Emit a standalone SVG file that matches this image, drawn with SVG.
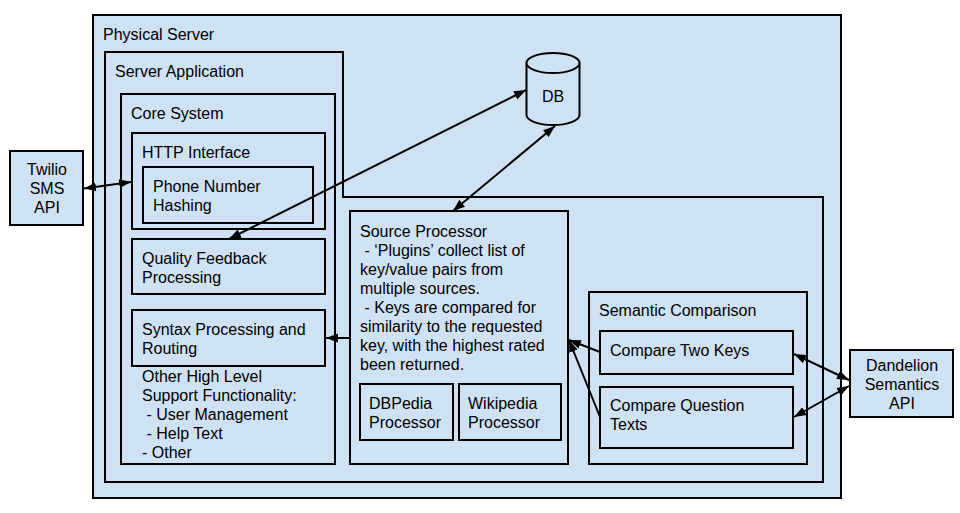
<svg xmlns="http://www.w3.org/2000/svg" width="960" height="513" viewBox="0 0 960 513">
<style>
.b{fill:#cfe2f3;stroke:#000;stroke-width:2}
text{font-family:"Liberation Sans",Arial,sans-serif;font-size:16px;fill:#000}
.c{text-anchor:middle}
.l{fill:none;stroke:#000;stroke-width:2}
</style>
<defs>
<marker id="ah" markerUnits="userSpaceOnUse" markerWidth="14" markerHeight="10" refX="12" refY="5" orient="auto-start-reverse" viewBox="0 0 14 10">
<path d="M0,0.5 L12,5 L0,9.5 z" fill="#000"/>
</marker>
</defs>
<rect width="960" height="513" fill="#fff"/>
<g id="physical-server">
<rect class="b" x="93" y="15" width="748" height="483"/>
<text x="103" y="40">Physical Server</text>
</g>
<g id="server-application">
<path class="b" d="M105,52 H343 V197 H823 V482 H105 Z"/>
<text x="115" y="77">Server Application</text>
</g>
<g id="core-system">
<rect class="b" x="121" y="94" width="214" height="370"/>
<text x="131" y="119">Core System</text>
<text x="142" y="382">Other High Level</text>
<text x="142" y="401">Support Functionality:</text>
<text x="142" y="420" xml:space="preserve"> - User Management</text>
<text x="142" y="439" xml:space="preserve"> - Help Text</text>
<text x="142" y="458">- Other</text>
</g>
<g id="http-interface">
<rect class="b" x="132" y="133" width="193" height="96"/>
<text x="142" y="158">HTTP Interface</text>
</g>
<g id="phone-number-hashing">
<rect class="b" x="143" y="167" width="170" height="56"/>
<text x="153" y="192">Phone Number</text>
<text x="153" y="211">Hashing</text>
</g>
<g id="quality-feedback">
<rect class="b" x="132" y="239" width="193" height="55"/>
<text x="142" y="264">Quality Feedback</text>
<text x="142" y="283">Processing</text>
</g>
<g id="syntax-processing">
<rect class="b" x="132" y="310" width="193" height="56"/>
<text x="142" y="335">Syntax Processing and</text>
<text x="142" y="354">Routing</text>
</g>
<g id="twilio">
<rect class="b" x="10" y="151" width="73" height="74"/>
<text class="c" x="47" y="175">Twilio</text>
<text class="c" x="47" y="194">SMS</text>
<text class="c" x="47" y="213">API</text>
</g>
<g id="db">
<path class="b" d="M526.5,63 V115 A26.5,10 0 0 0 579.5,115 V63"/>
<ellipse class="b" cx="553" cy="63" rx="26.5" ry="10"/>
<text class="c" x="553" y="102">DB</text>
</g>
<g id="source-processor">
<rect class="b" x="350" y="211" width="218" height="253"/>
<text x="360" y="237">Source Processor</text>
<text x="360" y="256" xml:space="preserve"> - ‘Plugins’ collect list of</text>
<text x="360" y="275">key/value pairs from</text>
<text x="360" y="294">multiple sources.</text>
<text x="360" y="313" xml:space="preserve"> - Keys are compared for</text>
<text x="360" y="332">similarity to the requested</text>
<text x="360" y="351">key, with the highest rated</text>
<text x="360" y="370">been returned.</text>
</g>
<g id="dbpedia">
<rect class="b" x="360" y="384" width="93" height="56"/>
<text x="369" y="409">DBPedia</text>
<text x="369" y="428">Processor</text>
</g>
<g id="wikipedia">
<rect class="b" x="459" y="384" width="102" height="56"/>
<text x="468" y="409">Wikipedia</text>
<text x="468" y="428">Processor</text>
</g>
<g id="semantic-comparison">
<rect class="b" x="589" y="292" width="218" height="172"/>
<text x="599" y="316">Semantic Comparison</text>
</g>
<g id="compare-two-keys">
<rect class="b" x="600" y="331" width="193" height="43"/>
<text x="610" y="356">Compare Two Keys</text>
</g>
<g id="compare-question-texts">
<rect class="b" x="600" y="387" width="193" height="61"/>
<text x="610" y="411">Compare Question</text>
<text x="610" y="430">Texts</text>
</g>
<g id="dandelion">
<rect class="b" x="850" y="350" width="103" height="67"/>
<text class="c" x="902" y="371">Dandelion</text>
<text class="c" x="902" y="390">Semantics</text>
<text class="c" x="902" y="409">API</text>
</g>
<g id="connectors">
<line class="l" x1="84" y1="188.5" x2="131" y2="182" marker-start="url(#ah)" marker-end="url(#ah)"/>
<line class="l" x1="229" y1="239" x2="526" y2="90" marker-start="url(#ah)" marker-end="url(#ah)"/>
<line class="l" x1="453" y1="211" x2="555" y2="126" marker-start="url(#ah)" marker-end="url(#ah)"/>
<line class="l" x1="350" y1="338" x2="326" y2="338" marker-end="url(#ah)"/>
<line class="l" x1="600" y1="352" x2="569" y2="340" marker-end="url(#ah)"/>
<line class="l" x1="600" y1="417" x2="569" y2="340" marker-end="url(#ah)"/>
<line class="l" x1="849" y1="380" x2="794" y2="354" marker-start="url(#ah)" marker-end="url(#ah)"/>
<line class="l" x1="849" y1="386" x2="794" y2="417" marker-start="url(#ah)" marker-end="url(#ah)"/>
</g>
</svg>
